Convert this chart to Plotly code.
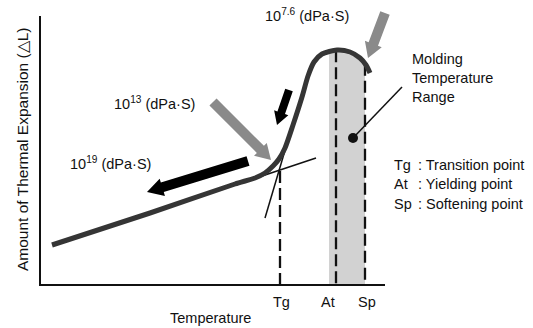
import numpy as np
import plotly.graph_objects as go

# Schematic data (diagram units: x = temperature position, y = expansion position, y grows downward)
curve_temp = [52, 150, 235, 255, 265, 273, 279, 285, 293, 302, 308, 314, 322, 337, 350, 360, 366, 370]
curve_exp = [245, 213, 184, 178, 173, 166, 159, 148, 125, 97, 76, 62, 54, 50, 52, 58, 65, 73]

tick_labels = ["Tg", "At", "Sp"]
tick_pos = [280, 336, 365]
band_range = [329, 365]

legend_abbr = ["Tg", "At", "Sp"]
legend_desc = [": Transition point", ": Yielding point", ": Softening point"]

viscosity_labels = ["10<sup>7.6</sup> (dPa·S)", "10<sup>13</sup> (dPa·S)", "10<sup>19</sup> (dPa·S)"]

# arrows: (tail_x, tail_y, tip_x, tip_y, color)
arrows = [
    (213, 102, 271, 160, "#8a8a8a"),
    (248, 161, 147, 192, "#000000"),
    (289, 90, 277, 125, "#000000"),
    (385, 13, 368, 58, "#8a8a8a"),
]

FONT = "Liberation Sans, Arial, sans-serif"
FS = 14.5

fig = go.Figure()

# shaded molding range band, following the curve top
bx = np.linspace(band_range[0], band_range[1], 30)
ctx = np.array(curve_temp, dtype=float)
cty = np.array(curve_exp, dtype=float)
btop = np.interp(bx, ctx, cty)
fig.add_trace(go.Scatter(
    x=list(bx) + [band_range[1], band_range[0]],
    y=list(btop + 2) + [285, 285],
    fill="toself", fillcolor="#d2d2d2", line=dict(width=0), mode="lines",
    hoverinfo="skip", showlegend=False))

# dashed verticals
for xp in tick_pos:
    top = float(np.interp(xp, ctx, cty))
    if xp == tick_pos[0]:
        top = 171
    fig.add_trace(go.Scatter(x=[xp, xp], y=[top, 285], mode="lines",
                             line=dict(color="#111", width=2.3, dash="12px,5px"),
                             hoverinfo="skip", showlegend=False))

# tangent lines
fig.add_trace(go.Scatter(x=[262, 316], y=[176, 158], mode="lines",
                         line=dict(color="#111", width=1.5), hoverinfo="skip", showlegend=False))
fig.add_trace(go.Scatter(x=[265, 286], y=[218, 147], mode="lines",
                         line=dict(color="#111", width=1.5), hoverinfo="skip", showlegend=False))

# main curve
fig.add_trace(go.Scatter(x=curve_temp, y=curve_exp, mode="lines",
                         line=dict(color="#353535", width=5, shape="spline", smoothing=0.7),
                         hoverinfo="skip", showlegend=False))

# axes
fig.add_trace(go.Scatter(x=[40, 40, 385], y=[16, 285, 285], mode="lines",
                         line=dict(color="#111", width=2), hoverinfo="skip", showlegend=False))

# block arrows
def arrow_poly(tx, ty, px, py, w=9, hw=17, hl=15):
    d = np.array([px - tx, py - ty], dtype=float)
    L = np.hypot(*d)
    d /= L
    n = np.array([-d[1], d[0]])
    T = np.array([tx, ty], dtype=float)
    P = np.array([px, py], dtype=float)
    B = P - d * hl
    pts = [T + n * w / 2, B + n * w / 2, B + n * hw / 2, P, B - n * hw / 2, B - n * w / 2, T - n * w / 2, T + n * w / 2]
    return [p[0] for p in pts], [p[1] for p in pts]

for i, (tx, ty, px, py, col) in enumerate(arrows):
    if i == 2:
        xs, ys = arrow_poly(tx, ty, px, py, w=8, hw=15, hl=13)
    elif col != "#000000":
        xs, ys = arrow_poly(tx, ty, px, py, w=10, hw=18, hl=15)
    else:
        xs, ys = arrow_poly(tx, ty, px, py, w=10, hw=18, hl=16)
    fig.add_trace(go.Scatter(x=xs, y=ys, fill="toself", fillcolor=col, mode="lines",
                             line=dict(width=0), hoverinfo="skip", showlegend=False))

# pointer line and dot
fig.add_trace(go.Scatter(x=[353, 402], y=[138, 87], mode="lines",
                         line=dict(color="#111", width=1.5), hoverinfo="skip", showlegend=False))
fig.add_trace(go.Scatter(x=[353], y=[138], mode="markers",
                         marker=dict(color="#111", size=10), hoverinfo="skip", showlegend=False))

ann = []
def txt(x, y, s, xa="center", size=FS, angle=0):
    ann.append(dict(x=x, y=y, text=s, showarrow=False, xanchor=xa, yanchor="middle",
                    font=dict(family=FONT, size=size, color="#111"), textangle=angle))

for lab, xp in zip(tick_labels, [281, 328, 367]):
    txt(xp, 302, lab)
txt(210, 318, "Temperature")
txt(22, 150, "Amount of Thermal Expansion (△L)", size=15.5, angle=-90)
txt(263, 15, viscosity_labels[0], xa="left")
txt(112, 103, viscosity_labels[1], xa="left")
txt(68, 163, viscosity_labels[2], xa="left")
ann.append(dict(x=410, y=78, text="Molding<br>Temperature<br>Range", showarrow=False,
                xanchor="left", yanchor="middle", align="left",
                font=dict(family=FONT, size=FS, color="#111")))
for i, (a, d) in enumerate(zip(legend_abbr, legend_desc)):
    yy = [165, 184, 204][i]
    txt(392, yy, a, xa="left")
    txt(416, yy, d, xa="left")

fig.update_layout(
    width=533, height=328, margin=dict(l=0, r=0, t=0, b=0),
    paper_bgcolor="white", plot_bgcolor="white",
    xaxis=dict(range=[0, 533], visible=False, fixedrange=True),
    yaxis=dict(range=[328, 0], visible=False, fixedrange=True),
    annotations=ann, showlegend=False,
)
fig.write_html("out.html", config={"displayModeBar": False})
